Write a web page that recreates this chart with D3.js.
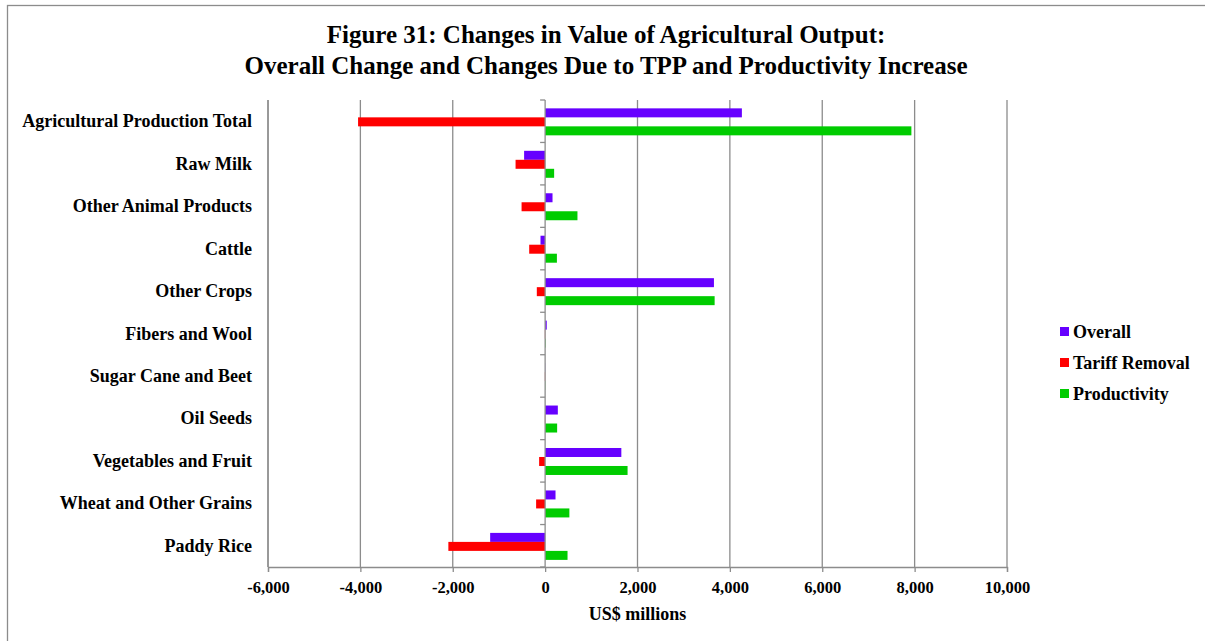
<!DOCTYPE html>
<html>
<head>
<meta charset="utf-8">
<script src="https://cdn.jsdelivr.net/npm/d3@7"></script>
<style>
  html, body { margin: 0; padding: 0; background: #fff; }
  svg { display: block; }
  text { font-family: "Liberation Serif", "Times New Roman", serif; font-weight: bold; fill: #000; }
</style>
</head>
<body>
<svg id="chart" width="1205" height="641"></svg>
<script>
const categories = [
  "Agricultural Production Total",
  "Raw Milk",
  "Other Animal Products",
  "Cattle",
  "Other Crops",
  "Fibers and Wool",
  "Sugar Cane and Beet",
  "Oil Seeds",
  "Vegetables and Fruit",
  "Wheat and Other Grains",
  "Paddy Rice"
];
const seriesNames = ["Overall", "Tariff Removal", "Productivity"];
const overall      = [4260, -455, 160, -100, 3655, 35, 3, 275, 1650, 225, -1190];
const tariffRemoval = [-4050, -640, -510, -345, -180, -5, -5, -5, -130, -195, -2095];
const productivity = [7930, 195, 700, 255, 3670, 10, 5, 260, 1785, 525, 485];
const xTicks = [-6000, -4000, -2000, 0, 2000, 4000, 6000, 8000, 10000];
const titleLines = [
  "Figure 31: Changes in Value of Agricultural Output:",
  "Overall Change and Changes Due to TPP and Productivity Increase"
];
const xAxisTitle = "US$ millions";
const colors = ["#6600FF", "#FF0000", "#00CC00"];

const seriesValues = [overall, tariffRemoval, productivity];

const svg = d3.select("#chart");
const plot = { left: 268, right: 1007, top: 100, bottom: 567 };

// outer frame
svg.append("rect")
  .attr("x", 7.5).attr("y", 5.5)
  .attr("width", 1300).attr("height", 700)
  .attr("fill", "none").attr("stroke", "#8c8c8c").attr("stroke-width", 1.3);

// title
svg.append("g").selectAll("text").data(titleLines).join("text")
  .attr("x", 606)
  .attr("y", (d, i) => 43 + i * 31)
  .attr("text-anchor", "middle")
  .attr("font-size", 25)
  .text(d => d);

const x = d3.scaleLinear().domain([-6000, 10000]).range([plot.left, plot.right]);
const y = d3.scaleBand().domain(categories).range([plot.top, plot.bottom]).paddingInner(0).paddingOuter(0);
const ySub = d3.scaleBand().domain(seriesNames).range([0, y.bandwidth()]).paddingInner(0).paddingOuter(0.86).align(0.54);

// gridlines
svg.append("g").selectAll("line").data(xTicks.filter(t => t !== 0)).join("line")
  .attr("x1", d => x(d)).attr("x2", d => x(d))
  .attr("y1", plot.top).attr("y2", plot.bottom)
  .attr("stroke", "#8c8c8c").attr("stroke-width", 1.3);

// bars
const rows = categories.map((c, i) => seriesNames.map((s, j) => ({ c, s, j, v: seriesValues[j][i] })));
svg.append("g").selectAll("g").data(rows).join("g")
  .attr("transform", d => `translate(0,${y(d[0].c)})`)
  .selectAll("rect").data(d => d).join("rect")
  .attr("x", d => Math.min(x(0), x(d.v)))
  .attr("width", d => Math.abs(x(d.v) - x(0)))
  .attr("y", d => ySub(d.s))
  .attr("height", ySub.bandwidth())
  .attr("fill", d => colors[d.j]);

// bottom axis
const fmt = d3.format(",");
const xAxis = d3.axisBottom(x).tickValues(xTicks).tickSize(5).tickPadding(9)
  .tickFormat(d => fmt(d).replace("\u2212", "-"));
const gx = svg.append("g").attr("transform", `translate(0,${plot.bottom})`).call(xAxis);
gx.select(".domain").attr("stroke", "#8c8c8c").attr("stroke-width", 1.3);
gx.selectAll(".tick line").attr("stroke", "#8c8c8c").attr("stroke-width", 1.3);
gx.selectAll(".tick text").attr("font-size", 16.5).attr("font-family", "Liberation Serif, serif").attr("font-weight", "bold").attr("fill", "#000");

// zero axis with category ticks
const zeroG = svg.append("g").attr("transform", `translate(${x(0)},0)`);
zeroG.append("line").attr("y1", plot.top).attr("y2", plot.bottom)
  .attr("stroke", "#8c8c8c").attr("stroke-width", 1.3);
const boundaries = d3.range(categories.length + 1).map(i => plot.top + i * y.step());
zeroG.selectAll("line.t").data(boundaries).join("line").attr("class", "t")
  .attr("x1", -5).attr("x2", 0).attr("y1", d => d).attr("y2", d => d)
  .attr("stroke", "#8c8c8c").attr("stroke-width", 1.3);

// left axis line
svg.append("line").attr("x1", plot.left).attr("x2", plot.left)
  .attr("y1", plot.top).attr("y2", plot.bottom)
  .attr("stroke", "#8c8c8c").attr("stroke-width", 1.3);

// category labels
svg.append("g").selectAll("text").data(categories).join("text")
  .attr("x", 252)
  .attr("y", d => y(d) + y.bandwidth() / 2 + 6)
  .attr("text-anchor", "end")
  .attr("font-size", 18)
  .text(d => d);

// x axis title
svg.append("text").attr("x", (plot.left + plot.right) / 2).attr("y", 620)
  .attr("text-anchor", "middle").attr("font-size", 18).text(xAxisTitle);

// legend
const leg = svg.append("g").selectAll("g").data(seriesNames).join("g")
  .attr("transform", (d, i) => `translate(1060,${332 + i * 31})`);
leg.append("rect").attr("x", 0).attr("y", -5).attr("width", 9).attr("height", 9)
  .attr("fill", (d, i) => colors[i]);
leg.append("text").attr("x", 13).attr("y", 6).attr("font-size", 18).text(d => d);
</script>
</body>
</html>
